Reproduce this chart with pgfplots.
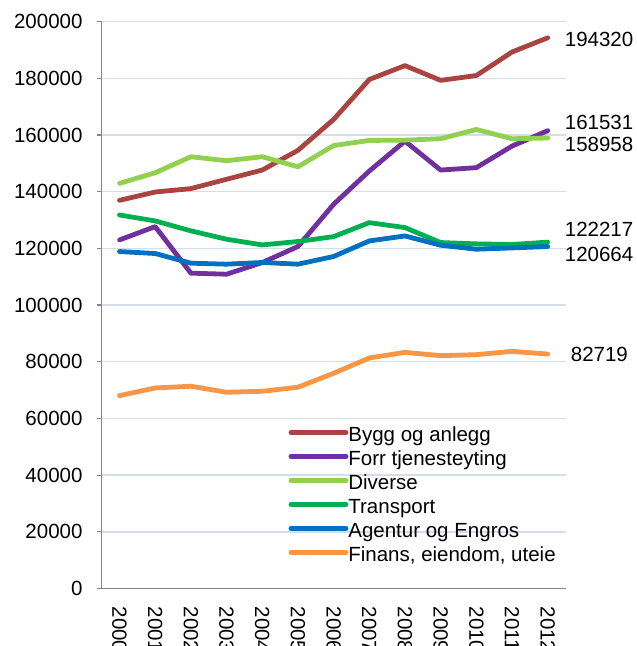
\documentclass[border=0pt]{standalone}
\usepackage{fontspec}
\setmainfont{Liberation Sans}
\usepackage{pgfplots}
\pgfplotsset{compat=1.18}
\definecolor{cBygg}{RGB}{169,68,65}
\definecolor{cForr}{RGB}{112,48,160}
\definecolor{cDiv}{RGB}{146,208,80}
\definecolor{cTrans}{RGB}{0,176,80}
\definecolor{cAgent}{RGB}{0,112,192}
\definecolor{cFin}{RGB}{247,150,70}
\definecolor{cGrid}{RGB}{210,222,238}
\definecolor{cAxis}{RGB}{134,134,134}
\begin{document}
\begin{tikzpicture}
\begin{axis}[
  name=ax,
  clip=false,
  scale only axis,
  width=464bp, height=567bp,
  xmin=-0.5, xmax=12.5,
  ymin=0, ymax=200000,
  axis lines=left,
  axis line style={-, cAxis, line width=1.3bp},
  tick align=outside,
  major tick length=5bp,
  minor tick length=6bp,
  xtick={0,...,12},
  xticklabels={2000,2001,2002,2003,2004,2005,2006,2007,2008,2009,2010,2011,2012},
  xtick style={draw=none},
  minor xtick={-0.5,0.5,...,12.5},
  minor tick style={cAxis, line width=1.3bp},
  ytick={0,20000,...,200000},
  ytick style={cAxis, line width=1.3bp},
  scaled y ticks=false,
  /pgf/number format/fixed,
  /pgf/number format/1000 sep={},
  /pgf/number format/assume math mode=true,
  ymajorgrids,
  grid style={cGrid, line width=1.4bp},
  tick label style={font=\fontsize{20.5bp}{24bp}\selectfont, text=black},
  xticklabel style={rotate=-90, anchor=west, inner sep=0pt},
  xticklabel shift=13bp,
  yticklabel style={anchor=east, inner sep=0pt},
  yticklabel shift=14bp,
  every axis plot/.append style={line width=4.8bp, line cap=round, line join=round, mark=none},
  legend style={draw=none, fill=none, at={(0.403,0.286)}, anchor=north west,
    inner sep=0pt, outer sep=0pt, row sep=0pt,
    font=\fontsize{20.5bp}{24bp}\selectfont,
    nodes={inner sep=0pt, text height=15bp, text depth=9bp}},
  legend cell align=left,
  legend image code/.code={\draw[#1] (0bp,6bp) -- (55bp,6bp);},
]
\addplot[cBygg] coordinates {(0,136970)(1,139900)(2,141100)(3,144400)(4,147650)(5,154600)(6,165500)(7,179600)(8,184500)(9,179300)(10,181000)(11,189300)(12,194320)};
\addlegendentry{Bygg og anlegg}
\addplot[cForr] coordinates {(0,123000)(1,127700)(2,111270)(3,110900)(4,115000)(5,120670)(6,135560)(7,147300)(8,157850)(9,147650)(10,148500)(11,156100)(12,161531)};
\addlegendentry{Forr tjenesteyting}
\addplot[cDiv] coordinates {(0,142950)(1,146700)(2,152350)(3,150950)(4,152350)(5,148800)(6,156300)(7,158100)(8,158200)(9,158700)(10,161970)(11,158700)(12,158958)};
\addlegendentry{Diverse}
\addplot[cTrans] coordinates {(0,131800)(1,129700)(2,126200)(3,123240)(4,121240)(5,122430)(6,124170)(7,129100)(8,127350)(9,122070)(10,121600)(11,121380)(12,122217)};
\addlegendentry{Transport}
\addplot[cAgent] coordinates {(0,118900)(1,118200)(2,114790)(3,114440)(4,115040)(5,114440)(6,117150)(7,122640)(8,124400)(9,121130)(10,119720)(11,120180)(12,120664)};
\addlegendentry{Agentur og Engros}
\addplot[cFin] coordinates {(0,68060)(1,70770)(2,71370)(3,69250)(4,69600)(5,71020)(6,75950)(7,81340)(8,83330)(9,82160)(10,82510)(11,83680)(12,82719)};
\addlegendentry{Finans, eiendom, uteie}
\begin{scope}[every node/.style={anchor=west, inner sep=0pt, font=\fontsize{20.5bp}{24bp}\selectfont}]
\node[xshift=17bp, yshift=-2bp] at (axis cs:12,194320) {194320};
\node[xshift=17bp, yshift=8bp] at (axis cs:12,161531) {161531};
\node[xshift=17bp, yshift=-6.5bp] at (axis cs:12,158958) {158958};
\node[xshift=17bp, yshift=13bp] at (axis cs:12,122217) {122217};
\node[xshift=17bp, yshift=-7.5bp] at (axis cs:12,120664) {120664};
\node[xshift=23bp, yshift=0bp] at (axis cs:12,82719) {82719};
\end{scope}
\end{axis}
\pgfresetboundingbox
\path ([xshift=-101.7bp, yshift=-57.5bp]ax.south west) rectangle ([xshift=71bp, yshift=21.7bp]ax.north east);
\end{tikzpicture}
\end{document}
